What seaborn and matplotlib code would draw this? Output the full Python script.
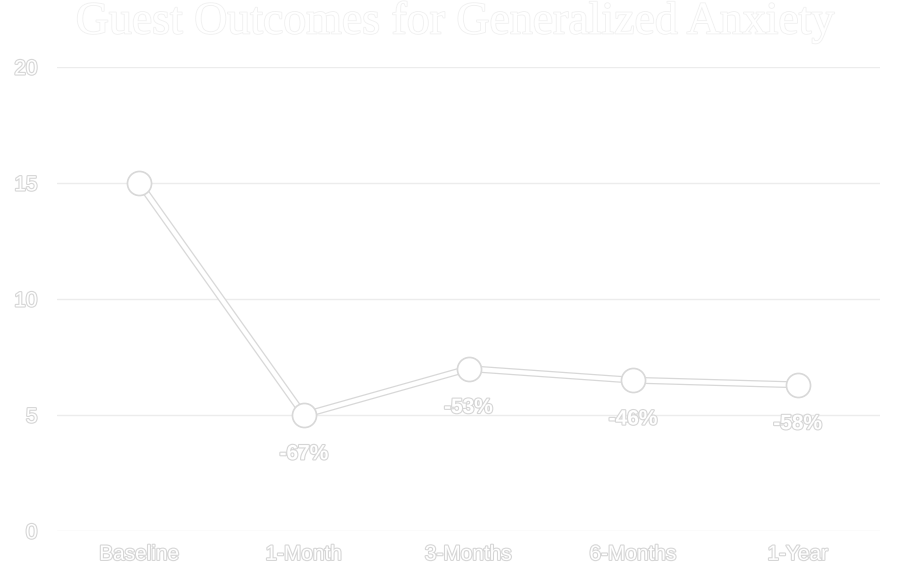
import matplotlib
matplotlib.use("Agg")
import matplotlib.pyplot as plt
import matplotlib.patheffects as pe
import pandas as pd
import seaborn as sns

# --- Data --------------------------------------------------------------------
timepoints = ["Baseline", "1-Month", "3-Months", "6-Months", "1-Year"]
scores = [15, 5, 7, 6.5, 6.3]
change_labels = ["", "-67%", "-53%", "-46%", "-58%"]
y_ticks = [0, 5, 10, 15, 20]

df = pd.DataFrame({"timepoint": timepoints, "score": scores})
df["pos"] = range(len(df))

# --- Style -------------------------------------------------------------------
sns.set_theme(style="white")
plt.rcParams["font.family"] = ["Liberation Sans", "DejaVu Sans"]

outline = [pe.Stroke(linewidth=1.6, foreground="#d6d6d6"), pe.Normal()]

fig = plt.figure(figsize=(9.11, 5.82), dpi=100)
fig.patch.set_facecolor("white")
ax = fig.add_axes([57 / 911, 1 - 531 / 582, (880 - 57) / 911, (531 - 67) / 582])
ax.set_facecolor("white")

# light horizontal grid
for y in y_ticks:
    ax.axhline(y, color="#ececec", linewidth=1.0, zorder=0)

sns.lineplot(data=df, x="pos", y="score", color="white", linewidth=3.2, ax=ax,
             zorder=3,
             path_effects=[pe.Stroke(linewidth=5.0, foreground="#d8d8d8"),
                           pe.Normal()])
ax.scatter(df["pos"], df["score"], s=300, color="white",
           edgecolor="#d8d8d8", linewidth=1.2, zorder=4)

# percent change labels under each point
for x, y, lab in zip(df["pos"], df["score"], change_labels):
    if lab:
        ax.annotate(lab, (x, y), xytext=(0, -28), textcoords="offset points",
                    ha="center", va="center", fontsize=15, color="white",
                    fontweight="bold", path_effects=outline, zorder=5)

ax.set_xlim(-0.5, len(timepoints) - 0.5)
ax.set_ylim(0, 20)
ax.set_xticks(range(len(timepoints)))
ax.set_xticklabels(timepoints)
ax.set_yticks(y_ticks)
ax.set_xlabel("")
ax.set_ylabel("")
ax.tick_params(axis="both", length=0, labelsize=15, labelcolor="white")
ax.tick_params(axis="x", pad=10)
ax.tick_params(axis="y", pad=14)
for lab in ax.get_xticklabels() + ax.get_yticklabels():
    lab.set_path_effects(outline)
for s in ax.spines.values():
    s.set_visible(False)

fig.text(0.5, 1 - 22 / 582, "Guest Outcomes for Generalized Anxiety",
         ha="center", va="center", fontsize=33, color="white",
         family=["Liberation Serif", "DejaVu Serif"],
         path_effects=[pe.Stroke(linewidth=1.2, foreground="#f0f0f0"), pe.Normal()])

fig.savefig("out.png", dpi=100, facecolor="white")
plt.close(fig)
